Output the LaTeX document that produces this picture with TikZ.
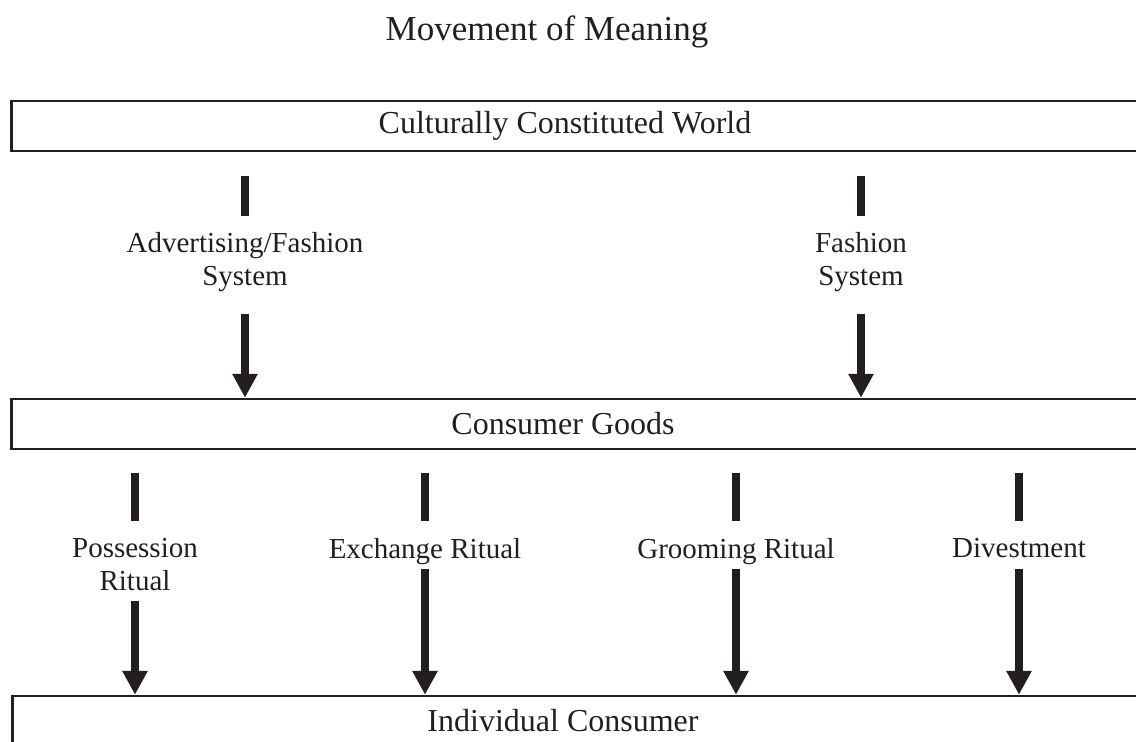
\documentclass[tikz,border=0pt]{standalone}
\usepackage{fontspec}
\setmainfont{Liberation Serif}
\usetikzlibrary{arrows.meta}
\definecolor{ink}{HTML}{231F20}
\tikzset{
  box/.style={draw=ink, line width=2.5pt, inner sep=0pt, anchor=west, minimum height=50pt, minimum width=1160pt},
  boxtext/.style={inner sep=0pt, text=ink, font=\fontsize{32}{36}\selectfont},
  lab/.style={align=center, inner sep=0pt, anchor=north, text=ink, font=\fontsize{29}{33}\selectfont},
  stub/.style={draw=ink, line width=7.5pt, line cap=butt},
  arr/.style={draw=ink, line width=7.5pt, -{Triangle[length=24pt,width=24pt]}},
}
\begin{document}
\begin{tikzpicture}[x=1pt,y=-1pt]
\useasboundingbox (0,0) rectangle (1136,742);
\clip (0,0) rectangle (1136,742);
\node[text=ink, inner sep=0pt, font=\fontsize{35}{40}\selectfont] (title) at (547,32) {Movement of Meaning};
\node[box] (cw) at (10,126) {};
\node[boxtext] (cwt) at (565,126) {Culturally Constituted World};
\node[box] (cg) at (10,424) {};
\node[boxtext] (cgt) at (563,424) {Consumer Goods};
\node[box] (ic) at (11,721) {};
\node[boxtext] (ict) at (563,721) {Individual Consumer};

\node[lab] (a1) at (245,232) {Advertising/Fashion\\System};
\node[lab] (a2) at (861,232) {Fashion\\System};
\node[lab] (b1) at (135,538) {Possession\\Ritual};
\node[lab] (b2) at (425,538) {Exchange Ritual};
\node[lab] (b3) at (736,538) {Grooming Ritual};
\node[lab] (b4) at (1019,538) {Divestment};

\foreach \n in {a1,a2}{
  \draw[stub] ([yshift=-24pt]cw.south -| \n) -- ([yshift=-64pt]cw.south -| \n);
  \draw[arr] ([yshift=84pt]cg.north -| \n) -- (cg.north -| \n);
}
\foreach \n in {b1,b2,b3,b4}{
  \draw[stub] ([yshift=-23pt]cg.south -| \n) -- ([yshift=-71pt]cg.south -| \n);
}
\draw[arr] ([yshift=94pt]ic.north -| b1) -- (ic.north -| b1);
\foreach \n in {b2,b3,b4}{
  \draw[arr] ([yshift=126pt]ic.north -| \n) -- (ic.north -| \n);
}
\end{tikzpicture}
\end{document}
